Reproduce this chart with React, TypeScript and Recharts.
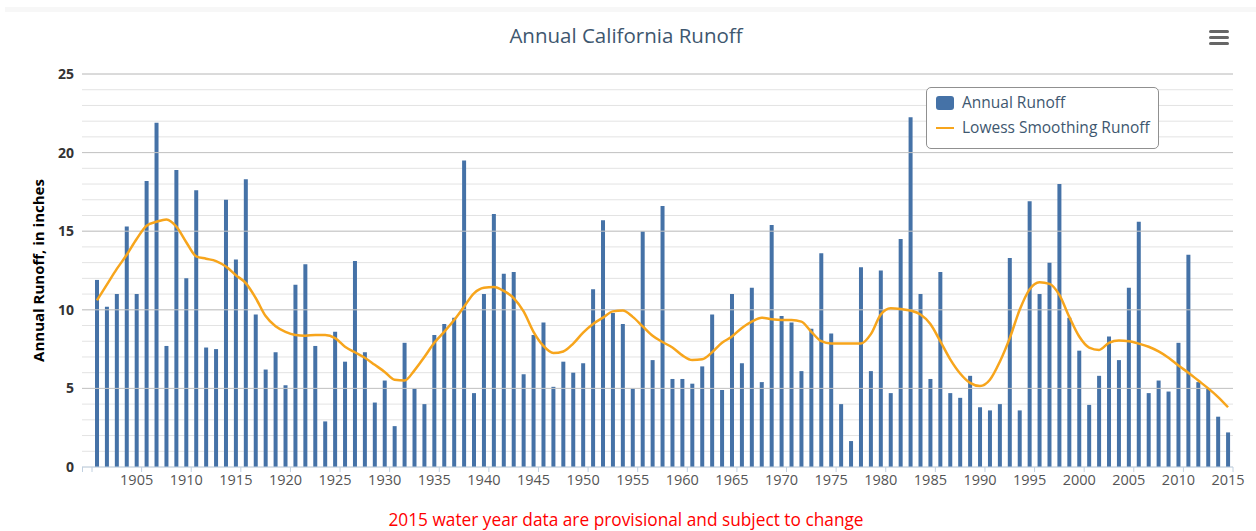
import React from 'react';
import { ComposedChart, Bar, Line, XAxis, YAxis, CartesianGrid, ReferenceLine, Legend } from 'recharts';

const FIRST_YEAR = 1901;

// annual runoff, inches (1901 - 2015)
const runoff = [
  11.9, 10.2, 11.0, 15.3, 11.0, 18.2, 21.9, 7.7, 18.9, 12.0,
  17.6, 7.6, 7.5, 17.0, 13.2, 18.3, 9.7, 6.2, 7.3, 5.2,
  11.6, 12.9, 7.7, 2.9, 8.6, 6.7, 13.1, 7.3, 4.1, 5.5,
  2.6, 7.9, 5.0, 4.0, 8.4, 9.1, 9.5, 19.5, 4.7, 11.0,
  16.1, 12.3, 12.4, 5.9, 8.4, 9.2, 5.1, 6.7, 6.0, 6.6,
  11.3, 15.7, 9.8, 9.1, 5.0, 15.0, 6.8, 16.6, 5.6, 5.6,
  5.3, 6.4, 9.7, 4.9, 11.0, 6.6, 11.4, 5.4, 15.4, 9.6,
  9.2, 6.1, 8.8, 13.6, 8.5, 4.0, 1.65, 12.7, 6.1, 12.5,
  4.7, 14.5, 22.25, 11.0, 5.6, 12.4, 4.7, 4.4, 5.8, 3.8,
  3.6, 4.0, 13.3, 3.6, 16.9, 11.0, 13.0, 18.0, 9.5, 7.4,
  3.95, 5.8, 8.3, 6.8, 11.4, 15.6, 4.7, 5.5, 4.8, 7.9,
  13.5, 5.4, 5.0, 3.2, 2.2,
];

// lowess smoothed runoff
const lowess = [
  10.6, 11.6, 12.6, 13.5, 14.5, 15.35, 15.6, 15.75, 15.3, 14.3,
  13.4, 13.25, 13.1, 12.75, 12.2, 11.7, 10.75, 9.6, 8.95, 8.6,
  8.4, 8.35, 8.4, 8.4, 8.2, 7.65, 7.3, 6.95, 6.5, 6.05,
  5.55, 5.5, 6.15, 7.0, 7.9, 8.6, 9.35, 10.2, 11.05, 11.4,
  11.45, 11.2, 10.75, 9.9, 8.6, 7.7, 7.25, 7.35, 7.85, 8.55,
  9.1, 9.5, 9.9, 9.95, 9.55, 8.95, 8.35, 7.95, 7.6, 7.1,
  6.8, 6.85, 7.3, 7.9, 8.3, 8.85, 9.25, 9.5, 9.4, 9.35,
  9.35, 9.25, 8.6, 8.0, 7.85, 7.85, 7.85, 7.85, 8.45, 9.7,
  10.1, 10.05, 9.95, 9.7, 9.1, 8.0, 6.85, 5.95, 5.35, 5.15,
  5.55, 6.7, 8.2, 10.0, 11.3, 11.75, 11.65, 10.95, 9.55, 8.3,
  7.6, 7.45, 7.9, 8.05, 8.0, 7.85, 7.65, 7.35, 6.95, 6.45,
  6.0, 5.5, 5.0, 4.45, 3.8,
];

const years = runoff.map((_, i) => FIRST_YEAR + i);
const yTicks = [0, 1, 2, 3, 4, 5, 6, 7, 8, 9, 10, 11, 12, 13, 14, 15, 16, 17, 18, 19, 20, 21, 22, 23, 24, 25];
const majorTicks = [5, 10, 15, 20, 25];

const data = years.map((year, i) => ({ year, runoff: runoff[i], lowess: lowess[i] }));

const BAR_COLOR = '#4572A7';
const LINE_COLOR = '#f7a51c';
const AXIS_COLOR = '#C0D0E0';
const TEXT_BLUE = '#3E576F';
const FONT = '"Open Sans", "DejaVu Sans", sans-serif';
const PAD_LEFT = 10;

const XTick = (props: any) => {
  const { x, y, payload, index } = props;
  const year = payload.value;
  const half = payload.offset || 4.96;
  const axisY = y - 8;
  return (
    <g>
      {index === 0 && (
        <>
          <line x1={x - half} x2={x - half} y1={axisY} y2={axisY + 5} stroke={AXIS_COLOR} />
          <line x1={x - half - PAD_LEFT + 0.5} x2={x - half - PAD_LEFT + 0.5} y1={axisY} y2={axisY + 5} stroke={AXIS_COLOR} />
        </>
      )}
      {year % 5 === 0 && (
        <>
          <line x1={x + half} x2={x + half} y1={axisY} y2={axisY + 5} stroke={AXIS_COLOR} />
          <text x={x} y={y} dy={10} textAnchor="middle" fill="#555" fontSize={14.5} fontFamily={FONT}>{year}</text>
        </>
      )}
    </g>
  );
};

const LegendBox = () => (
  <div style={{ border: '1px solid #909090', borderRadius: 5, background: '#fff', padding: '2px 8px 8px 9px', fontFamily: FONT, fontSize: 15.5, color: TEXT_BLUE, lineHeight: '25px', whiteSpace: 'nowrap' }}>
    <div style={{ display: 'flex', alignItems: 'center' }}>
      <span style={{ display: 'inline-block', width: 18, height: 14, borderRadius: 3, background: BAR_COLOR, marginRight: 8 }} />
      Annual Runoff
    </div>
    <div style={{ display: 'flex', alignItems: 'center' }}>
      <span style={{ display: 'inline-block', width: 18, height: 2, background: LINE_COLOR, marginRight: 8 }} />
      Lowess Smoothing Runoff
    </div>
  </div>
);

export default function App() {
  return (
    <div style={{ position: 'absolute', left: 0, top: 0, width: 1256, height: 531, background: '#fff', fontFamily: FONT }}>
      <div style={{ position: 'absolute', left: 5, right: 0, top: 7, height: 5, background: '#f7f7f7' }} />
      <div style={{ position: 'absolute', left: 0, width: 1252, top: 21, textAlign: 'center', fontSize: 20.5, color: TEXT_BLUE }}>
        Annual California Runoff
      </div>
      <div style={{ position: 'absolute', left: 1209, top: 30 }}>
        {[0, 1, 2].map((i) => (
          <div key={i} style={{ width: 20, height: 3, borderRadius: 1.5, background: '#666', marginBottom: 3 }} />
        ))}
      </div>
      <div style={{ position: 'absolute', left: 0, top: 0 }}>
        <ComposedChart width={1256} height={490} data={data} margin={{ top: 74, right: 23, left: 0, bottom: 0 }}>
          <CartesianGrid vertical={false} stroke="#e3e3e3" />
          {majorTicks.map((t) => (
            <ReferenceLine key={t} y={t} stroke="#c4c4c4" />
          ))}
          <XAxis
            dataKey="year"
            type="category"
            interval={0}
            height={23}
            padding={{ left: PAD_LEFT, right: 0 }}
            axisLine={{ stroke: AXIS_COLOR }}
            tickLine={false}
            tickSize={6}
            tickMargin={2}
            tick={<XTick />}
          />
          <YAxis
            width={82}
            domain={[0, 25]}
            ticks={yTicks}
            interval={0}
            axisLine={false}
            tickLine={false}
            tickFormatter={(v: number) => (v % 5 === 0 ? String(v) : '')}
            tick={{ fill: '#333', fontSize: 14, fontWeight: 'bold', fontFamily: FONT }}
            label={{ value: 'Annual Runoff, in inches', angle: -90, position: 'center', dx: -2, fill: '#000', fontSize: 15, fontWeight: 'bold', fontFamily: FONT }}
          />
          <Legend
            layout="horizontal"
            verticalAlign="middle"
            align="center"
            content={<LegendBox />}
            wrapperStyle={{ left: 926, top: 87, width: 'auto' }}
          />
          <Bar dataKey="runoff" name="Annual Runoff" fill={BAR_COLOR} barSize={4} isAnimationActive={false} />
          <Line type="monotone" dataKey="lowess" name="Lowess Smoothing Runoff" stroke={LINE_COLOR} strokeWidth={2.5} dot={false} activeDot={false} isAnimationActive={false} />
        </ComposedChart>
      </div>
      <div style={{ position: 'absolute', left: 0, width: 1252, top: 508, textAlign: 'center', fontSize: 17.3, color: '#f00' }}>
        2015 water year data are provisional and subject to change
      </div>
    </div>
  );
}
